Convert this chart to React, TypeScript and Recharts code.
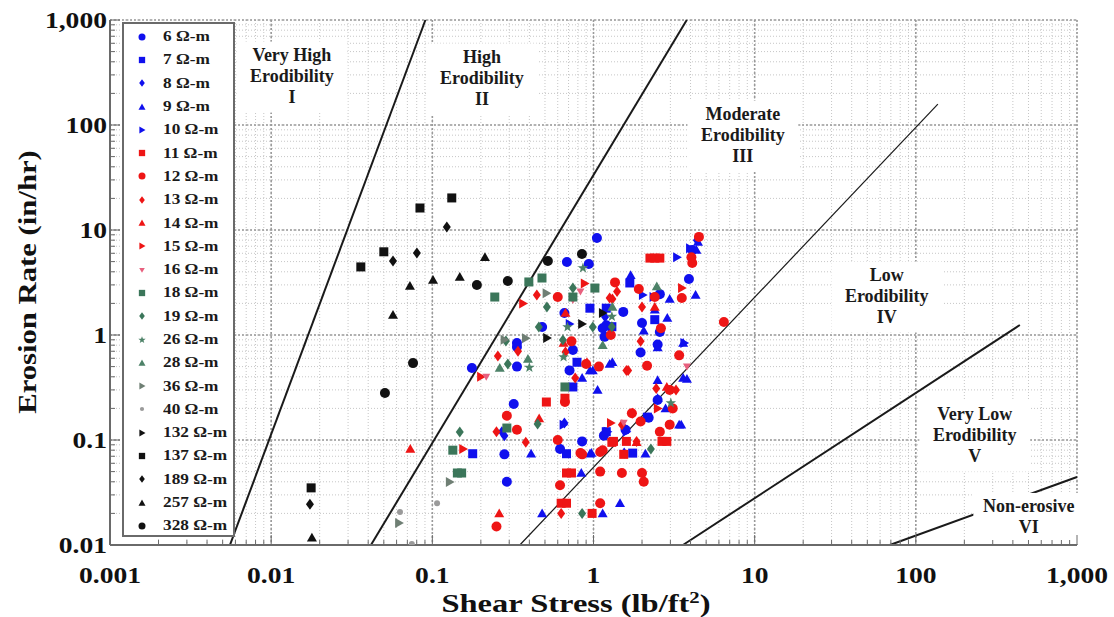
import {
  ScatterChart, Scatter, XAxis, YAxis, CartesianGrid,
  ReferenceLine, ReferenceDot,
} from 'recharts'

const W = 1114
const H = 617
const SERIF = '"Liberation Serif", "Times New Roman", serif'
const FRAME = '#6a6a6a'

// axis decades + labels
const X_DECADES = [0.001, 0.01, 0.1, 1, 10, 100, 1000]
const X_LABELS = ['0.001', '0.01', '0.1', '1', '10', '100', '1,000']
const Y_DECADES = [0.01, 0.1, 1, 10, 100, 1000]
const Y_LABELS = ['0.01', '0.1', '1', '10', '100', '1,000']

// [shear stress lb/ft2, erosion rate in/hr] per soil resistivity
const R6 = [[1.05, 8.4], [0.684, 4.96], [0.935, 4.74], [3.91, 3.41], [4.1, 6.45], [0.335, 0.84], [0.335, 0.77], [0.335, 0.5], [0.176, 0.485], [0.745, 0.72], [0.32, 0.22], [0.28, 0.073], [0.29, 0.04], [0.62, 0.082], [1.16, 0.11], [1.58, 0.125], [2.58, 1.07], [1.2, 1.24], [1.14, 1.16], [0.48, 1.19], [1.53, 1.66], [2.58, 2.45], [2.0, 1.3], [2.5, 0.24], [1.96, 0.68], [2.2, 0.163], [0.85, 0.097], [0.71, 0.46], [1.17, 0.96], [2.5, 0.81], [0.66, 1.62]]
const R7 = [[1.68, 3.13], [0.95, 1.8], [1.3, 1.2], [0.79, 0.55], [0.745, 0.32], [0.178, 0.074], [2.16, 0.165], [0.68, 0.074], [1.2, 0.12], [1.75, 0.075], [1.2, 1.8], [2.4, 1.4]]
const R8 = [[1.18, 1.48], [1.55, 0.075], [0.66, 0.145], [0.28, 0.11], [4.38, 8.0], [0.27, 0.12]]
const R9 = [[1.7, 3.7], [2.97, 2.2], [4.3, 2.4], [4.35, 6.45], [4.45, 7.7], [2.4, 1.74], [2.87, 1.45], [3.6, 0.84], [2.5, 0.76], [1.31, 0.55], [0.95, 0.46], [0.85, 0.39], [1.06, 0.3], [0.41, 0.074], [0.95, 0.074], [2.1, 0.074], [3.5, 0.14], [2.5, 0.37], [3.8, 0.38], [3.6, 0.39], [2.8, 0.2], [3.4, 0.14], [0.84, 0.0485], [0.48, 0.02], [1.14, 0.02], [1.46, 0.025], [1.26, 0.53], [0.99, 0.46], [2.05, 1.1], [0.97, 0.075], [2.5, 0.25]]
const R10 = [[3.29, 5.5], [2.02, 2.4], [2.35, 2.3], [0.65, 0.14], [1.22, 0.12], [1.6, 0.12], [3.65, 0.84], [0.71, 1.27], [3.96, 6.7]]
const R11 = [[2.24, 5.4], [2.4, 5.4], [2.58, 5.4], [1.3, 0.095], [2.66, 0.097], [2.85, 0.097], [0.68, 0.0485], [0.73, 0.0485], [0.63, 0.025], [0.68, 0.025], [0.98, 0.02], [1.54, 0.073], [1.33, 0.097], [1.6, 0.097], [0.665, 0.25], [0.51, 0.23]]
const R12 = [[1.36, 3.17], [3.53, 2.25], [2.4, 2.3], [1.91, 2.74], [0.6, 2.3], [1.28, 1.0], [2.62, 1.16], [0.73, 0.87], [1.08, 0.5], [0.29, 0.17], [0.335, 0.125], [0.6, 0.1], [0.85, 0.073], [1.1, 0.077], [1.73, 0.18], [1.96, 0.15], [2.58, 0.12], [2.97, 0.14], [2.97, 0.3], [3.1, 0.2], [3.4, 0.64], [1.1, 0.05], [1.5, 0.0485], [2.0, 0.0485], [2.05, 0.04], [0.62, 0.037], [1.1, 0.025], [0.25, 0.015], [4.1, 4.85], [4.05, 5.5], [4.51, 8.6], [2.15, 0.51], [0.9, 0.53], [6.44, 1.33], [0.83, 0.075], [1.14, 0.08], [0.665, 0.23]]
const R13 = [[0.34, 0.7], [0.255, 0.63], [1.6, 0.46], [0.67, 0.69], [0.25, 0.12], [0.63, 0.02], [1.75, 0.18], [2.45, 0.31], [3.25, 0.3], [1.96, 0.87], [1.4, 2.6], [1.31, 2.2], [0.38, 0.095], [1.85, 0.097], [1.5, 0.14], [2.0, 1.85], [1.26, 2.25], [0.445, 2.4], [0.77, 0.39], [1.64, 0.46]]
const R14 = [[0.073, 0.082], [0.652, 0.84], [0.91, 0.55], [0.46, 0.16], [1.85, 0.095], [0.26, 0.02], [2.4, 1.85], [0.67, 1.62], [2.85, 0.32]]
const R15 = [[0.155, 0.082], [0.365, 2.0], [0.88, 3.1], [3.53, 2.8], [2.5, 0.2], [1.28, 0.145], [0.2, 0.4]]
const R16 = [[0.216, 0.4], [0.745, 2.15], [0.83, 2.6], [1.54, 0.146], [3.8, 0.5]]
const R18 = [[0.244, 2.3], [0.397, 3.2], [0.479, 3.49], [0.745, 2.3], [1.02, 2.8], [0.665, 0.32], [0.29, 0.13], [0.134, 0.08], [0.152, 0.0485], [0.143, 0.0485]]
const R19 = [[0.514, 1.85], [0.745, 2.8], [0.458, 1.19], [0.286, 0.877], [0.294, 0.53], [0.646, 0.895], [1.3, 1.2], [0.148, 0.119], [0.45, 0.142], [2.27, 0.082], [0.85, 0.02], [0.99, 1.19]]
const R26 = [[0.4, 0.49], [0.86, 4.35], [0.69, 1.19], [0.652, 0.617], [3.02, 0.225], [1.3, 1.5]]
const R28 = [[0.392, 0.59], [1.14, 0.8], [0.262, 0.485], [1.31, 1.85], [2.47, 2.9]]
const R36 = [[0.128, 0.0398], [0.062, 0.0162], [0.51, 2.5], [0.38, 0.93], [0.28, 0.9]]
const R40 = [[0.107, 0.025], [0.063, 0.0206], [0.0746, 0.0102]]
const R132 = [[0.514, 0.935], [0.848, 1.27], [1.14, 1.62]]
const R137 = [[0.132, 20.2], [0.0838, 16.2], [0.05, 6.2], [0.036, 4.45], [0.0177, 0.035]]
const R189 = [[0.123, 10.7], [0.057, 5.07], [0.0802, 6.04], [0.0174, 0.0245]]
const R257 = [[0.101, 3.34], [0.0726, 2.93], [0.148, 3.57], [0.057, 1.55], [0.0179, 0.0117], [0.212, 5.5]]
const R328 = [[0.0759, 0.54], [0.0508, 0.28], [0.189, 2.99], [0.294, 3.27], [0.521, 5.07], [0.848, 5.9]]

const BLUE = '#1010ee'
const RED = '#ee1515'
const PINK = '#e8607e'
const GREEN = '#3b765a'
const GREEN2 = '#4d8268'
const GRAYGREEN = '#6f7f74'
const GRAY = '#9a9a9a'
const BLACK = '#111111'

const SERIES = [
  { name: '6 Ω-m', color: BLUE, kind: 'circle', data: R6 },
  { name: '7 Ω-m', color: BLUE, kind: 'square', data: R7 },
  { name: '8 Ω-m', color: BLUE, kind: 'diamond', data: R8 },
  { name: '9 Ω-m', color: BLUE, kind: 'triangle', data: R9 },
  { name: '10 Ω-m', color: BLUE, kind: 'right', data: R10 },
  { name: '11 Ω-m', color: RED, kind: 'square', data: R11 },
  { name: '12 Ω-m', color: RED, kind: 'circle', data: R12 },
  { name: '13 Ω-m', color: RED, kind: 'diamond', data: R13 },
  { name: '14 Ω-m', color: RED, kind: 'triangle', data: R14 },
  { name: '15 Ω-m', color: RED, kind: 'right', data: R15 },
  { name: '16 Ω-m', color: PINK, kind: 'down', data: R16 },
  { name: '18 Ω-m', color: GREEN, kind: 'square', data: R18 },
  { name: '19 Ω-m', color: GREEN, kind: 'diamond', data: R19 },
  { name: '26 Ω-m', color: GREEN2, kind: 'star', data: R26 },
  { name: '28 Ω-m', color: GREEN2, kind: 'triangle', data: R28 },
  { name: '36 Ω-m', color: GRAYGREEN, kind: 'right', data: R36 },
  { name: '40 Ω-m', color: GRAY, kind: 'small', data: R40 },
  { name: '132 Ω-m', color: BLACK, kind: 'right', data: R132 },
  { name: '137 Ω-m', color: BLACK, kind: 'square', data: R137 },
  { name: '189 Ω-m', color: BLACK, kind: 'diamond', data: R189 },
  { name: '257 Ω-m', color: BLACK, kind: 'triangle', data: R257 },
  { name: '328 Ω-m', color: BLACK, kind: 'circle', data: R328 },
]

// erodibility category boundaries
const BOUNDARIES = [
  { from: [0.00555, 0.01], to: [0.0906, 1000], width: 2 },
  { from: [0.0416, 0.01], to: [3.79, 1000], width: 2 },
  { from: [0.349, 0.01], to: [137, 158], width: 1.2 },
  { from: [3.59, 0.01], to: [442, 1.245], width: 2 },
  { from: [69, 0.01], to: [1000, 0.0444], width: 2 },
]

const ZONES = [
  { lines: ['Very High', 'Erodibility', 'I'], x: 0.01346, y: 286 },
  { lines: ['High', 'Erodibility', 'II'], x: 0.203, y: 274 },
  { lines: ['Moderate', 'Erodibility', 'III'], x: 8.45, y: 78.5 },
  { lines: ['Low', 'Erodibility', 'IV'], x: 66, y: 2.3 },
  { lines: ['Very Low', 'Erodibility', 'V'], x: 232, y: 0.109 },
  { lines: ['Non-erosive', 'VI'], x: 502, y: 0.0181 },
]

function withMinor(decades: number[]) {
  const out: number[] = []
  decades.forEach((d, i) => {
    if (i === decades.length - 1) { out.push(d); return }
    for (let k = 1; k < 10; k++) out.push(+(d * k).toPrecision(4))
  })
  return out
}
const X_TICKS = withMinor(X_DECADES)
const Y_TICKS = withMinor(Y_DECADES)

const decadeIndex = (decades: number[], v: number) =>
  decades.findIndex((d) => Math.abs(Math.log10(v) - Math.log10(d)) < 1e-6)

function Marker({ kind, cx, cy, size, color }: any) {
  const h = size / 2
  switch (kind) {
    case 'circle':
      return <circle cx={cx} cy={cy} r={h} fill={color} />
    case 'small':
      return <circle cx={cx} cy={cy} r={h * 0.6} fill={color} />
    case 'square':
      return <rect x={cx - h * 0.9} y={cy - h * 0.9} width={size * 0.9} height={size * 0.9} fill={color} />
    case 'diamond':
      return <polygon points={`${cx},${cy - h * 1.1} ${cx + h * 0.8},${cy} ${cx},${cy + h * 1.1} ${cx - h * 0.8},${cy}`} fill={color} />
    case 'triangle':
      return <polygon points={`${cx},${cy - h} ${cx + h},${cy + h * 0.75} ${cx - h},${cy + h * 0.75}`} fill={color} />
    case 'down':
      return <polygon points={`${cx - h * 0.8},${cy - h * 0.6} ${cx + h * 0.8},${cy - h * 0.6} ${cx},${cy + h * 0.8}`} fill={color} />
    case 'right':
      return <polygon points={`${cx - h * 0.75},${cy - h} ${cx + h},${cy} ${cx - h * 0.75},${cy + h}`} fill={color} />
    case 'star': {
      const pts: string[] = []
      for (let i = 0; i < 10; i++) {
        const r = i % 2 === 0 ? h * 1.1 : h * 0.45
        const a = -Math.PI / 2 + (i * Math.PI) / 5
        pts.push(`${cx + r * Math.cos(a)},${cy + r * Math.sin(a)}`)
      }
      return <polygon points={pts.join(' ')} fill={color} />
    }
    default:
      return null
  }
}

const tickText = { fontFamily: SERIF, fontWeight: 'bold' as const, fontSize: 23, fill: '#111' }

function BottomTick({ x, y, payload }: any) {
  const i = decadeIndex(X_DECADES, payload.value)
  return (
    <g>
      <line x1={x} x2={x} y1={y} y2={y - (i >= 0 ? 10 : 5)} stroke={FRAME} />
      {i >= 0 && (
        <text transform={`translate(${x},${y + 38}) scale(1.2,1)`} textAnchor="middle" {...tickText}>
          {X_LABELS[i]}
        </text>
      )}
    </g>
  )
}

function TopTick({ x, y, payload }: any) {
  const i = decadeIndex(X_DECADES, payload.value)
  return <line x1={x} x2={x} y1={y} y2={y + (i >= 0 ? 10 : 5)} stroke={FRAME} />
}

function LeftTick({ x, y, payload }: any) {
  const i = decadeIndex(Y_DECADES, payload.value)
  return (
    <g>
      <line x1={x} x2={x + (i >= 0 ? 10 : 5)} y1={y} y2={y} stroke={FRAME} />
      {i >= 0 && (
        <text transform={`translate(${x - 3},${y + 8}) scale(1.2,1)`} textAnchor="end" {...tickText}>
          {Y_LABELS[i]}
        </text>
      )}
    </g>
  )
}

function RightTick({ x, y, payload }: any) {
  const i = decadeIndex(Y_DECADES, payload.value)
  return <line x1={x} x2={x - (i >= 0 ? 10 : 5)} y1={y} y2={y} stroke={FRAME} />
}

function ZoneLabel({ cx, cy, lines }: any) {
  const lh = 21
  const wide = Math.max(...lines.map((l: string) => l.length)) * 8.8 + 14
  const tall = lines.length * lh + 8
  const top = cy - (lines.length * lh) / 2
  return (
    <g>
      <rect x={cx - wide / 2} y={cy - tall / 2} width={wide} height={tall} fill="#fff" />
      {lines.map((l: string, k: number) => (
        <text key={k} x={cx} y={top + k * lh + 15} textAnchor="middle"
          fontFamily={SERIF} fontWeight="bold" fontSize={18} fill="#1a1a1a">
          {l}
        </text>
      ))}
    </g>
  )
}

function LegendBox() {
  return (
    <div style={{
      position: 'absolute', left: 122, top: 22, width: 113, height: 515,
      background: '#fff', border: `2px solid ${FRAME}`, boxSizing: 'border-box',
      paddingTop: 1,
    }}>
      {SERIES.map((s) => (
        <div key={s.name} style={{ height: 23.3, display: 'flex', alignItems: 'center' }}>
          <svg width={36} height={14} style={{ flexShrink: 0 }}>
            <Marker kind={s.kind} cx={18} cy={7} size={7} color={s.color} />
          </svg>
          <span style={{
            fontFamily: SERIF, fontWeight: 'bold', fontSize: 15, color: '#1a1a1a',
            transform: 'scaleX(1.15)', transformOrigin: 'left center', whiteSpace: 'nowrap',
            marginLeft: 3,
          }}>{s.name}</span>
        </div>
      ))}
    </div>
  )
}

export default function App() {
  return (
    <div style={{ position: 'relative', width: W, height: H, background: '#fff' }}>
      <style>{'body{margin:0}'}</style>
      <ScatterChart width={W} height={H} margin={{ top: 20, right: 37, bottom: 0, left: 0 }}>
        <CartesianGrid stroke="#c6c6c6" strokeDasharray="1 2" />
        <CartesianGrid stroke="#9a9a9a" strokeWidth={1.6} strokeDasharray="2 2"
          horizontalValues={Y_DECADES} verticalValues={X_DECADES} />

        <XAxis dataKey="x" type="number" scale="log" domain={[0.001, 1000]} allowDataOverflow
          ticks={X_TICKS} interval={0} tickSize={0} tickMargin={0} tickLine={false}
          height={72} tick={BottomTick} axisLine={{ stroke: FRAME, strokeWidth: 2 }} />
        <XAxis xAxisId="top" orientation="top" dataKey="x" type="number" scale="log"
          domain={[0.001, 1000]} allowDataOverflow ticks={X_TICKS} interval={0}
          tickSize={0} tickMargin={0} tickLine={false} height={0} tick={TopTick}
          axisLine={{ stroke: FRAME, strokeWidth: 2 }} />
        <YAxis dataKey="y" type="number" scale="log" domain={[0.01, 1000]} allowDataOverflow
          ticks={Y_TICKS} interval={0} tickSize={0} tickMargin={0} tickLine={false}
          width={110} tick={LeftTick} axisLine={{ stroke: FRAME, strokeWidth: 2 }} />
        <YAxis yAxisId="right" orientation="right" dataKey="y" type="number" scale="log"
          domain={[0.01, 1000]} allowDataOverflow ticks={Y_TICKS} interval={0}
          tickSize={0} tickMargin={0} tickLine={false} width={0} tick={RightTick}
          axisLine={{ stroke: FRAME, strokeWidth: 2 }} />

        {SERIES.map((s) => (
          <Scatter key={s.name} name={s.name} data={s.data.map(([x, y]) => ({ x, y }))}
            isAnimationActive={false}
            shape={(p: any) => <Marker kind={s.kind} cx={p.cx} cy={p.cy} size={10} color={s.color} />} />
        ))}

        {BOUNDARIES.map((b, i) => (
          <ReferenceLine key={i} stroke="#1a1a1a" strokeWidth={b.width}
            segment={[{ x: b.from[0], y: b.from[1] }, { x: b.to[0], y: b.to[1] }]} />
        ))}

        {ZONES.map((z) => (
          <ReferenceDot key={z.lines.join()} x={z.x} y={z.y} r={0} ifOverflow="visible"
            shape={(p: any) => <ZoneLabel cx={p.cx} cy={p.cy} lines={z.lines} />} />
        ))}
      </ScatterChart>

      <LegendBox />

      <div style={{
        position: 'absolute', left: 576, top: 604, transform: 'translate(-50%,-50%) scaleX(1.3)',
        fontFamily: SERIF, fontWeight: 'bold', fontSize: 25, lineHeight: '26px', color: '#111', whiteSpace: 'nowrap',
      }}>
        Shear Stress (lb/ft<sup style={{ fontSize: 16, lineHeight: 0 }}>2</sup>)
      </div>
      <div style={{
        position: 'absolute', left: 28, top: 282, transform: 'translate(-50%,-50%) rotate(-90deg) scaleX(1.18)',
        fontFamily: SERIF, fontWeight: 'bold', fontSize: 26, color: '#111', whiteSpace: 'nowrap',
      }}>
        Erosion Rate (in/hr)
      </div>
    </div>
  )
}
